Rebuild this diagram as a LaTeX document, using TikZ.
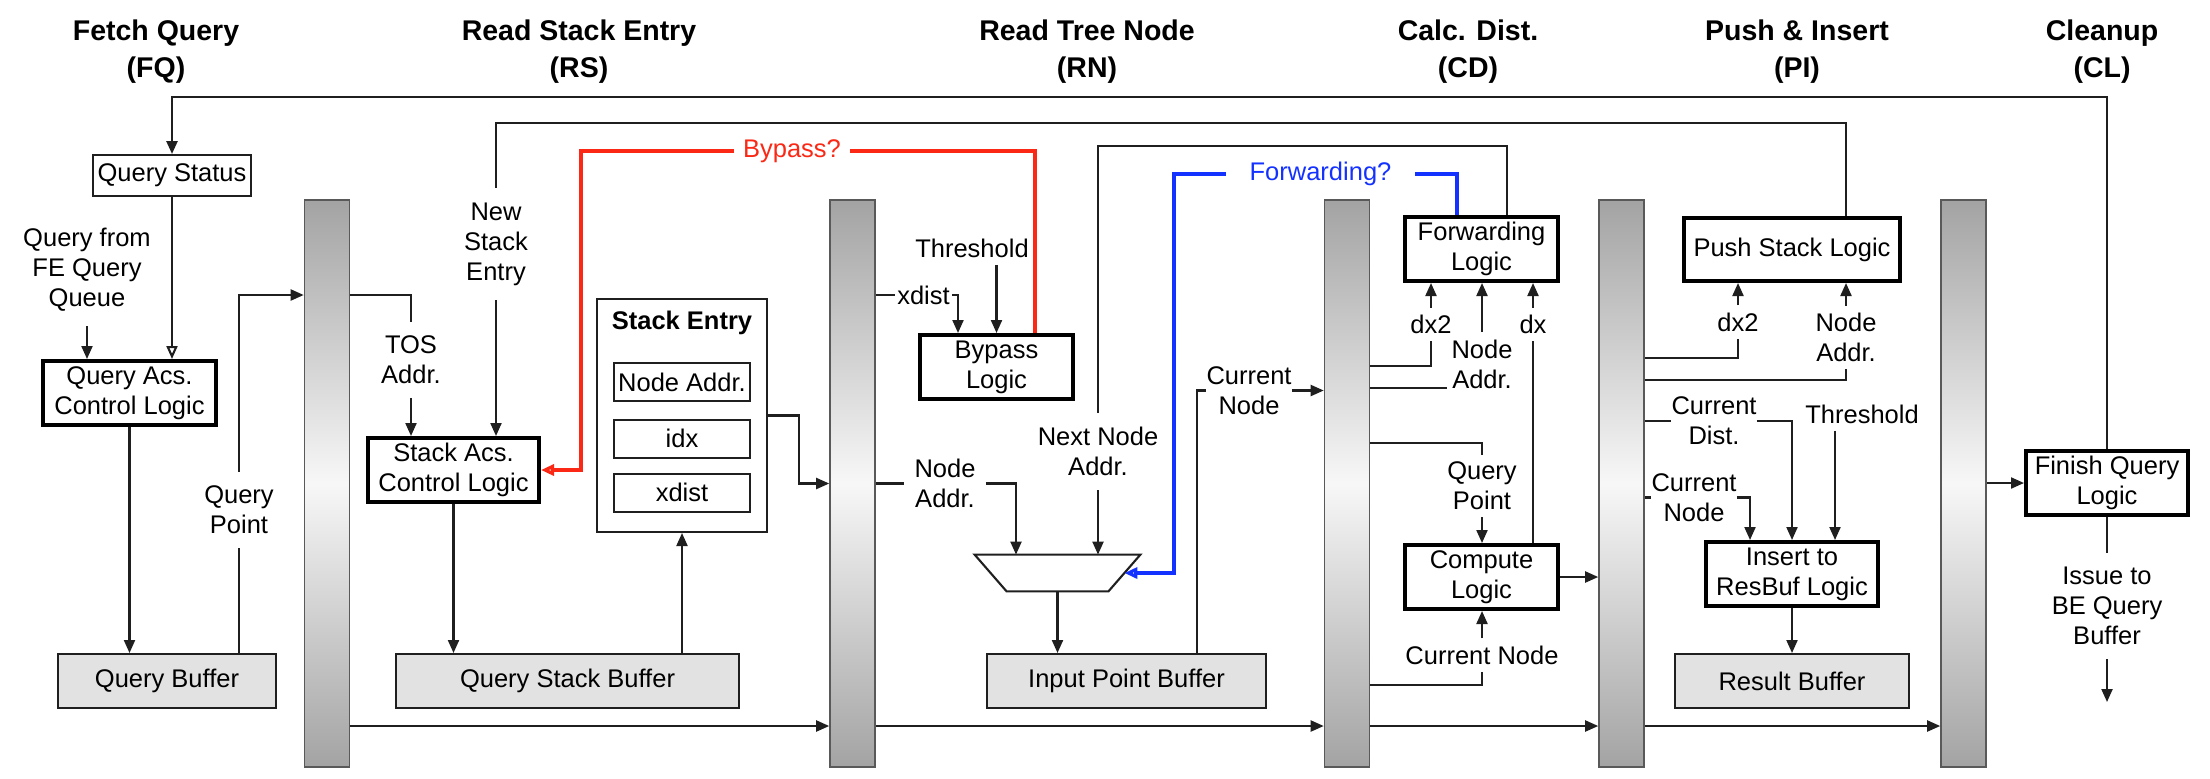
\documentclass[tikz,border=0pt]{standalone}
\usepackage{fontspec}
\setmainfont{Liberation Sans}
\usetikzlibrary{arrows.meta}
\definecolor{redline}{RGB}{250,40,20}
\definecolor{blueline}{RGB}{20,50,255}
\definecolor{bufgray}{RGB}{226,226,226}
\colorlet{ln}{black!88}
\begin{document}
\begin{tikzpicture}[x=0.5pt,y=-0.5pt,
  font=\fontsize{12.75}{15}\selectfont,
  >={Triangle[length=6.5pt,width=5.5pt]},
  ttl/.style={align=center, font=\bfseries\fontsize{14.25}{18.5}\selectfont},
  thinbox/.style={draw=ln, line width=1pt, fill=white, inner sep=0pt, align=center},
  thickbox/.style={draw=black, line width=2pt, fill=white, inner sep=0pt, align=center},
  bufbox/.style={draw=ln, line width=1pt, fill=bufgray, inner sep=0pt, align=center},
  preg/.style={draw=black!65, line width=0.8pt, top color=black!36, bottom color=black!36, middle color=black!3, minimum width=22.5pt, minimum height=283.5pt, inner sep=0pt},
  lbl/.style={align=center, inner xsep=1pt, inner ysep=3.5pt},
  lblw/.style={lbl, inner ysep=7pt},
  wire/.style={draw=ln, line width=1.05pt},
  arr/.style={wire, ->},
  oarr/.style={-{Triangle[open,length=6.5pt,width=5.5pt]}},
  redw/.style={draw=redline, line width=1.8pt},
  bluew/.style={draw=blueline, line width=1.8pt}
]
\useasboundingbox (0,0) rectangle (2210,778);

% titles
\node[ttl] (tFQ) at (156,52) {Fetch Query\\(FQ)};
\node[ttl] (tRS) at (579,52) {Read Stack Entry\\(RS)};
\node[ttl] (tRN) at (1087,52) {Read Tree Node\\(RN)};
\node[ttl] (tCD) at (1468,52) {Calc. Dist.\\(CD)};
\node[ttl] (tPI) at (1797,52) {Push \& Insert\\(PI)};
\node[ttl] (tCL) at (2102,52) {Cleanup\\(CL)};

% pipeline registers
\node[preg] (r1) at (327,483.5) {};
\node[preg] (r2) at (852.5,483.5) {};
\node[preg] (r3) at (1347,483.5) {};
\node[preg] (r4) at (1621.5,483.5) {};
\node[preg] (r5) at (1963.5,483.5) {};

% boxes
\node[thinbox, minimum width=79pt, minimum height=20.5pt] (qstat) at (172,175.5) {Query Status};
\node[thickbox, minimum width=86.5pt, minimum height=32pt] (qacs) at (129.5,393) {Query Acs.\\Control Logic};
\node[bufbox, minimum width=109pt, minimum height=27pt] (qbuf) at (167,681) {Query Buffer};
\node[thickbox, minimum width=85.5pt, minimum height=32pt] (sacs) at (453.5,470) {Stack Acs.\\Control Logic};
\node[bufbox, minimum width=171.5pt, minimum height=27pt] (qsbuf) at (567.5,681) {Query Stack Buffer};
\node[thinbox, minimum width=85pt, minimum height=116.5pt] (se) at (682,415.5) {};
\node[font=\bfseries\fontsize{12.75}{15}\selectfont] (setitle) at (682,323) {Stack Entry};
\node[thinbox, minimum width=68pt, minimum height=19pt] (seNA) at (682,382) {Node Addr.};
\node[thinbox, minimum width=68pt, minimum height=19pt] (seIdx) at (682,438.5) {idx};
\node[thinbox, minimum width=68pt, minimum height=19pt] (seXd) at (682,492.5) {xdist};
\node[thickbox, minimum width=76.5pt, minimum height=32pt] (byp) at (996.5,367) {Bypass\\Logic};
\node[inner sep=0pt, minimum width=82.5pt, minimum height=18pt] (mux) at (1057.5,573) {};
\node[bufbox, minimum width=139.5pt, minimum height=27pt] (ipbuf) at (1126.5,681) {Input Point Buffer};
\node[thickbox, minimum width=76.5pt, minimum height=32pt] (fwd) at (1481.5,249) {Forwarding\\Logic};
\node[thickbox, minimum width=76.5pt, minimum height=32pt] (comp) at (1481.5,577) {Compute\\Logic};
\node[thickbox, minimum width=108pt, minimum height=31.5pt] (push) at (1792,249.5) {Push Stack Logic};
\node[thickbox, minimum width=86pt, minimum height=32pt] (ins) at (1792,574) {Insert to\\ResBuf Logic};
\node[bufbox, minimum width=117pt, minimum height=27pt] (resbuf) at (1792,681) {Result Buffer};
\node[thickbox, minimum width=81pt, minimum height=32pt] (fin) at (2107,483) {Finish Query\\Logic};

% labels
\node[lblw] (lQFE) at (87,270) {Query from\\FE Query\\Queue};
\node[lblw] (lQP) at (239,510) {Query\\Point};
\node[lblw] (lTOS) at (411,360) {TOS\\Addr.};
\node[lblw] (lNSE) at (496,244) {New\\Stack\\Entry};
\node[lbl, text=redline, inner xsep=4.25pt] (lByp) at (792,151) {Bypass?};
\node[lbl] (lXd) at (923.5,295) {xdist};
\node[lbl] (lTh1) at (972,248) {Threshold};
\node[lbl, inner xsep=5pt] (lNA2) at (945,483.5) {Node\\Addr.};
\node[lblw] (lNNA) at (1098,451.5) {Next Node\\Addr.};
\node[lbl, text=blueline, inner xsep=11.75pt] (lFwdQ) at (1320.5,174) {Forwarding?};
\node[lbl, inner xsep=0pt] (lCN1) at (1249,390.5) {Current\\Node};
\node[lbl] (lDx2a) at (1431,324.5) {dx2};
\node[lbl, inner xsep=2pt] (lNA3) at (1482,364) {Node\\Addr.};
\node[lbl] (lDx) at (1533,324.5) {dx};
\node[lbl] (lQP2) at (1482,486) {Query\\Point};
\node[lbl] (lCN2) at (1482,655) {Current Node};
\node[lbl] (lDx2b) at (1738,322) {dx2};
\node[lbl] (lPNA) at (1846,337.5) {Node\\Addr.};
\node[lbl, inner xsep=0pt] (lCD) at (1714,421) {Current\\Dist.};
\node[lbl] (lTh2) at (1862,414) {Threshold};
\node[lbl, inner xsep=0pt] (lCN3) at (1694,497.5) {Current\\Node};
\node[lblw] (lIss) at (2107,606) {Issue to\\BE Query\\Buffer};

% helper coordinates
\coordinate (yTop) at (0,97);
\coordinate (ySec) at (0,123);
\coordinate (yQP) at (0,295);
\coordinate (yBot) at (0,726);
\coordinate (yDx2a) at (0,366);
\coordinate (yNA3) at (0,388);
\coordinate (yQP2) at (0,443);
\coordinate (yCN2) at (0,685);
\coordinate (yDx2b) at (0,358);
\coordinate (yPNA) at (0,380);
\coordinate (cNN) at (1507,146);
\coordinate (cRed) at (581,151);
\coordinate (cRedUp) at (1035,0);
\coordinate (cBlue) at (1174,174);
\coordinate (cBlueUp) at (1457,0);
\coordinate (cSE) at (799,0);
\coordinate (cXd) at (958,0);
\coordinate (cMuxL) at (1016,0);
\coordinate (cIP) at (1197,0);
\coordinate (cTh2) at (1835,0);
\coordinate (cCN3) at (1750,0);
\coordinate (issueEnd) at (2107,702);
\coordinate (muxR) at ([xshift=-8pt]mux.east);

% mux
\draw[wire, fill=white] (mux.north west) -- (mux.north east) -- ([xshift=-16pt]mux.south east) -- ([xshift=16pt]mux.south west) -- cycle;

% long feedback lines
\draw[arr, line width=1.25pt] (fin.north) -- (fin.north |- yTop) -| (qstat.north);
\draw[wire] (lPNA |- push.north) -- (lPNA |- ySec) -| (lNSE.north);
\draw[arr] (lNSE.south) -- (lNSE.south |- sacs.north);
\draw[wire] (cNN |- fwd.north) -- (cNN) -| (lNNA.north);
\draw[arr] (lNNA.south) -- (lNNA.south |- mux.north);

% FQ
\draw[wire, oarr] (qstat.south) -- (qstat.south |- qacs.north);
\draw[arr] (lQFE.south) -- (lQFE.south |- qacs.north);
\draw[arr] (qacs.south) -- (qacs.south |- qbuf.north);
\draw[wire] (lQP |- qbuf.north) -- (lQP.south);
\draw[arr] (lQP.north) |- (r1.west |- yQP);

% RS
\draw[wire] (r1.east |- yQP) -| (lTOS.north);
\draw[arr] (lTOS.south) -- (lTOS.south |- sacs.north);
\draw[redw] (cRedUp |- byp.north) -- (cRedUp |- cRed) -- (lByp.east);
\draw[redw, oarr] (lByp.west) -- (cRed) |- (sacs.east);
\draw[arr] (sacs.south) -- (sacs.south |- qsbuf.north);
\draw[arr] (se.south |- qsbuf.north) -- (se.south);
\draw[arr] (se.east) -- (cSE |- se.east) |- (r2.west);

% RN
\draw[wire] (r2.east |- lXd) -- (lXd.west);
\draw[arr] (lXd.east) -| (cXd |- byp.north);
\draw[arr] (lTh1.south -| byp.north) -- (byp.north);
\draw[wire] (r2.east |- lNA2) -- (lNA2.west);
\draw[arr] (lNA2.east) -| (cMuxL |- mux.north);
\draw[arr] (mux.south) -- (mux.south |- ipbuf.north);
\draw[bluew] (cBlueUp |- fwd.north) -- (cBlueUp |- cBlue) -- (lFwdQ.east);
\draw[bluew, oarr] (lFwdQ.west) -- (cBlue) |- (muxR);
\draw[wire] (cIP |- ipbuf.north) |- (lCN1.west);
\draw[arr] (lCN1.east) -- (r3.west |- lCN1);

% CD
\draw[wire] (r3.east |- yDx2a) -| (lDx2a.south);
\draw[arr] (lDx2a.north) -- (lDx2a.north |- fwd.south);
\draw[wire] (r3.east |- yNA3) -- (lNA3.west |- yNA3);
\draw[arr] (lNA3.north) -- (lNA3.north |- fwd.south);
\draw[wire] (lDx |- comp.north) -- (lDx.south);
\draw[arr] (lDx.north) -- (lDx.north |- fwd.south);
\draw[wire] (r3.east |- yQP2) -| (lQP2.north);
\draw[arr] (lQP2.south) -- (lQP2.south |- comp.north);
\draw[wire] (r3.east |- yCN2) -| (lCN2.south);
\draw[arr] (lCN2.north) -- (lCN2.north |- comp.south);
\draw[arr] (comp.east) -- (r4.west |- comp.east);

% PI
\draw[wire] (r4.east |- yDx2b) -| (lDx2b.south);
\draw[arr] (lDx2b.north) -- (lDx2b.north |- push.south);
\draw[wire] (r4.east |- yPNA) -| (lPNA.south);
\draw[arr] (lPNA.north) -- (lPNA.north |- push.south);
\draw[wire] (r4.east |- lCD) -- (lCD.west);
\draw[arr] (lCD.east) -| (ins.north);
\draw[arr] (cTh2 |- lTh2.south) -- (cTh2 |- ins.north);
\draw[wire] (r4.east |- lCN3) -- (lCN3.west);
\draw[arr] (lCN3.east) -| (cCN3 |- ins.north);
\draw[arr] (ins.south) -- (ins.south |- resbuf.north);

% CL
\draw[arr] (r5.east |- fin.west) -- (fin.west);
\draw[wire] (fin.south) -- (lIss.north);
\draw[arr] (lIss.south) -- (issueEnd);

% bottom pipeline
\draw[arr] (r1.east |- yBot) -- (r2.west |- yBot);
\draw[arr] (r2.east |- yBot) -- (r3.west |- yBot);
\draw[arr] (r3.east |- yBot) -- (r4.west |- yBot);
\draw[arr] (r4.east |- yBot) -- (r5.west |- yBot);
\end{tikzpicture}
\end{document}
